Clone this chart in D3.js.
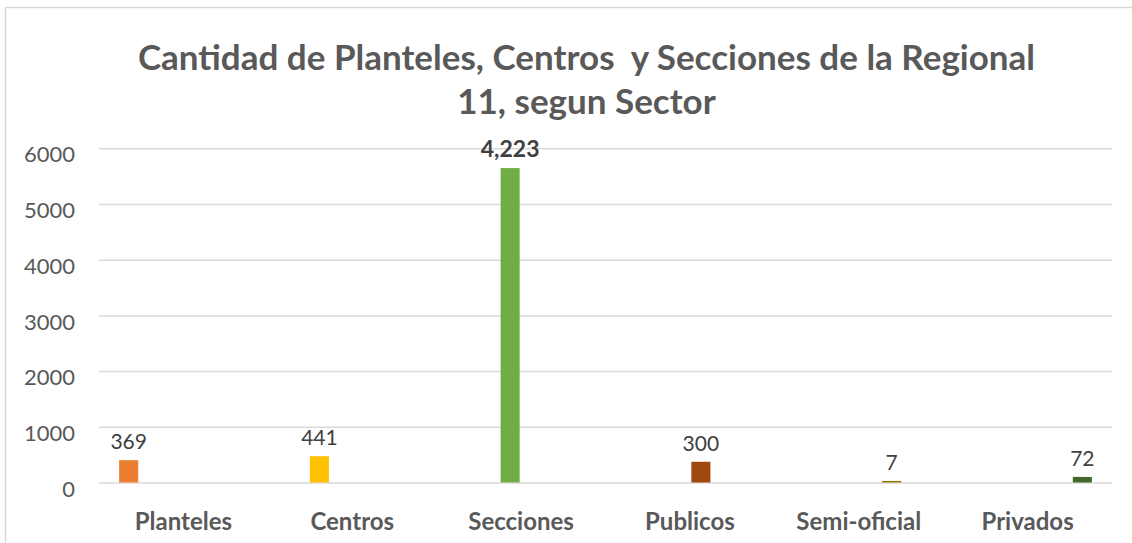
<!DOCTYPE html>
<html>
<head>
<meta charset="utf-8">
<script src="https://cdn.jsdelivr.net/npm/d3@7"></script>
<style>
  body { margin: 0; background: #fff; }
  svg { display: block; font-family: Lato, "Open Sans", sans-serif; }
</style>
</head>
<body>
<div id="chart"></div>
<script>
// chart data
const categories = ["Planteles", "Centros", "Secciones", "Publicos", "Semi-oficial", "Privados"];
// bar heights as drawn in the picture (one series per category)
const barValues = [400, 472, 5645, 372, 28, 100];
// the data labels printed above the bars
const valueLabels = ["369", "441", "4,223", "300", "7", "72"];
const yTicks = [0, 1000, 2000, 3000, 4000, 5000, 6000];
const colors = ["#ED7D31", "#FFC000", "#70AD47", "#9E480E", "#997300", "#43682B"];

const width = 1132, height = 543;
const margin = { top: 148.3, right: 20, bottom: 60.5, left: 99 };

const svg = d3.select("#chart").append("svg")
    .attr("width", width)
    .attr("height", height);

// chart frame
svg.append("rect")
    .attr("x", 5.5).attr("y", 7.5)
    .attr("width", 1140).attr("height", 560)
    .attr("fill", "none")
    .attr("stroke", "#d9d9d9")
    .attr("stroke-width", 1.5);

const x0 = d3.scaleBand()
    .domain(categories)
    .range([margin.left, 1112])
    .padding(0);

const x1 = d3.scaleBand()
    .domain(d3.range(categories.length))
    .range([0, x0.bandwidth()])
    .paddingInner(0.13)
    .paddingOuter(0.92);

const y = d3.scaleLinear()
    .domain([0, 6000])
    .range([height - margin.bottom, margin.top]);

// gridlines + y labels
const yAxis = g => g
    .attr("transform", `translate(${margin.left},0)`)
    .call(d3.axisLeft(y).tickValues(yTicks).tickSize(-(1112 - margin.left)).tickPadding(24).tickFormat(d3.format("d")))
    .call(g => g.select(".domain").remove())
    .call(g => g.selectAll(".tick line").attr("stroke", "#d9d9d9").attr("stroke-width", 1.5))
    .call(g => g.selectAll(".tick text")
        .attr("fill", "#595959")
        .attr("font-size", 22)
        .attr("font-family", "Lato, sans-serif")
        .attr("dy", "0.62em"));

svg.append("g").call(yAxis);

// bars
svg.append("g")
    .selectAll("rect")
    .data(barValues)
    .join("rect")
    .attr("x", (d, i) => x0(categories[i]) + x1(i))
    .attr("y", d => y(d))
    .attr("width", x1.bandwidth())
    .attr("height", d => y(0) - y(d))
    .attr("fill", (d, i) => colors[i]);

// value labels
svg.append("g")
    .selectAll("text")
    .data(barValues)
    .join("text")
    .attr("x", (d, i) => x0(categories[i]) + x1(i) + x1.bandwidth() / 2)
    .attr("y", d => y(d) - 11)
    .attr("text-anchor", "middle")
    .attr("font-size", (d, i) => i === 2 ? 23 : 21)
    .attr("font-weight", (d, i) => i === 2 ? "bold" : "normal")
    .attr("fill", "#404040")
    .text((d, i) => valueLabels[i]);

// category labels
const xAxis = g => g
    .attr("transform", `translate(0,${y(0)})`)
    .call(d3.axisBottom(x0).tickSize(0).tickPadding(30))
    .call(g => g.select(".domain").remove())
    .call(g => g.selectAll(".tick text")
        .attr("fill", "#595959")
        .attr("font-size", 24)
        .attr("font-weight", "bold")
        .attr("font-family", "Lato, sans-serif"));

svg.append("g").call(xAxis);

// title
const title = svg.append("text")
    .attr("text-anchor", "middle")
    .attr("fill", "#595959")
    .attr("font-size", 35)
    .attr("font-weight", "bold");

title.append("tspan")
    .attr("x", 586.5).attr("y", 70)
    .text("Cantidad de Planteles, Centros\u00a0 y Secciones de la Regional");
title.append("tspan")
    .attr("x", 586.5).attr("y", 114)
    .text("11, segun Sector");
</script>
</body>
</html>
